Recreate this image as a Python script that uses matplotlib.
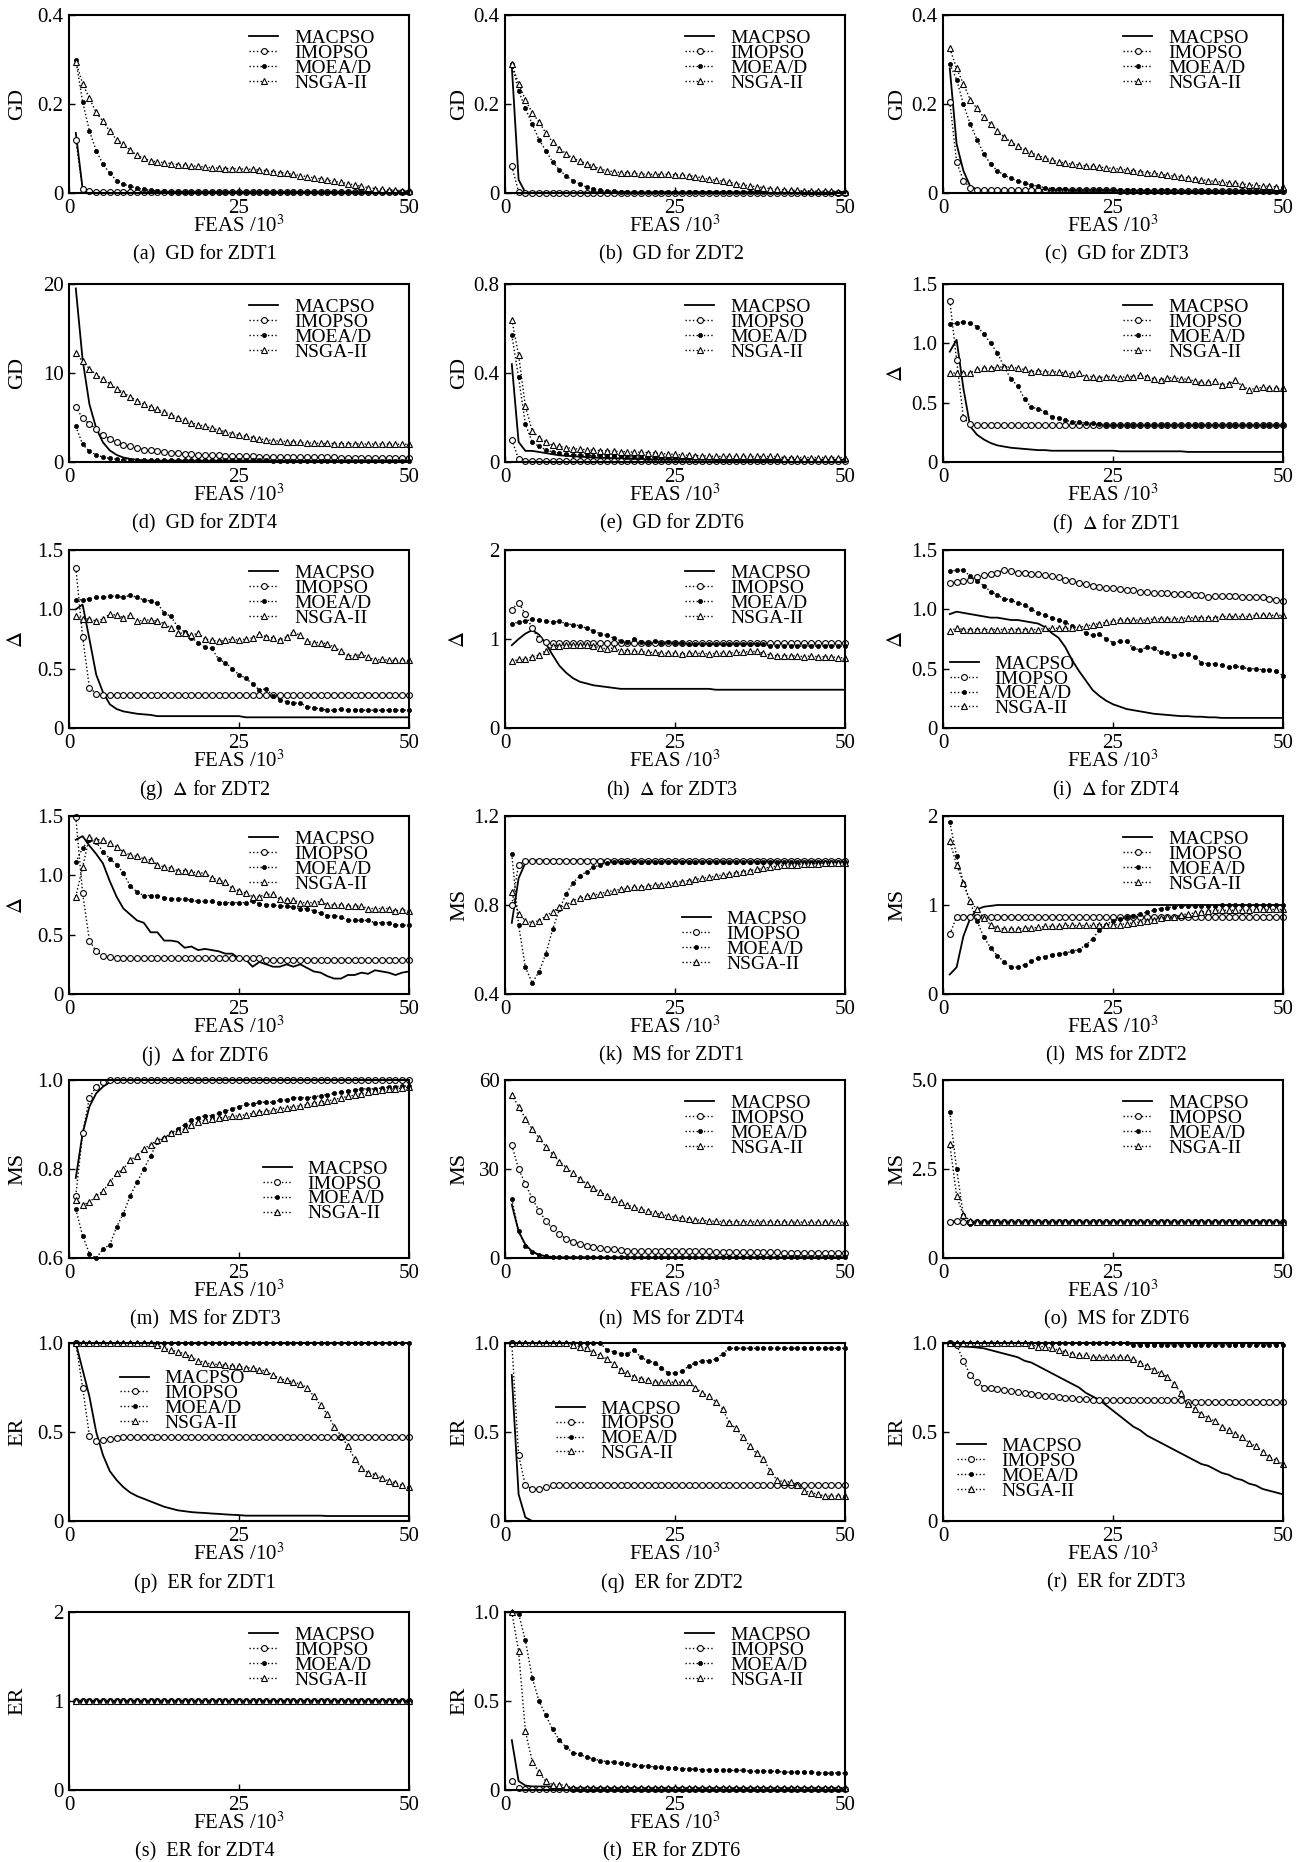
import numpy as np
import matplotlib
matplotlib.use("Agg")
import matplotlib.pyplot as plt

plt.rcParams['font.family'] = ['Liberation Serif', 'DejaVu Serif']
plt.rcParams['mathtext.fontset'] = 'stix'

# x positions: FEAS in units of 10^3
feas = np.arange(1, 51)
algos = ['MACPSO', 'IMOPSO', 'MOEA/D', 'NSGA-II']

# ---------------- GD ----------------
gd1_mac = [0.135, 0.01] + [0.002] * 48
gd1_imo = [0.12, 0.01, 0.004] + [0.002] * 47
gd1_moe = [0.30, 0.205, 0.14, 0.095, 0.065, 0.044, 0.028, 0.02, 0.015, 0.011,
           0.008, 0.006, 0.005, 0.004] + [0.003] * 36
gd1_nsg = [0.295, 0.246, 0.213, 0.181, 0.161, 0.139, 0.12, 0.11, 0.096, 0.085,
           0.078, 0.072, 0.07, 0.068, 0.066, 0.064, 0.062, 0.061, 0.06, 0.058,
           0.057, 0.056, 0.055, 0.055, 0.054, 0.054, 0.053, 0.052, 0.05, 0.048,
           0.046, 0.044, 0.042, 0.039, 0.037, 0.034, 0.032, 0.029, 0.026, 0.024,
           0.021, 0.018, 0.015, 0.012, 0.01, 0.008, 0.007, 0.006, 0.005, 0.004]

gd2_mac = [0.285, 0.03] + [0.001] * 48
gd2_imo = [0.06, 0.003] + [0.001] * 48
gd2_moe = [0.29, 0.23, 0.19, 0.155, 0.12, 0.095, 0.07, 0.052, 0.038, 0.028,
           0.02, 0.013, 0.009, 0.006, 0.005, 0.004] + [0.003] * 34
gd2_nsg = [0.29, 0.245, 0.21, 0.18, 0.16, 0.135, 0.115, 0.1, 0.088, 0.078,
           0.072, 0.066, 0.06, 0.054, 0.05, 0.048, 0.046, 0.045, 0.044, 0.043,
           0.042, 0.042, 0.042, 0.042, 0.041, 0.04, 0.039, 0.037, 0.034, 0.031,
           0.029, 0.027, 0.024, 0.021, 0.018, 0.016, 0.014, 0.012, 0.01, 0.008,
           0.007, 0.006, 0.006, 0.005, 0.005, 0.004, 0.004, 0.004, 0.003, 0.003]

gd3_mac = [0.28, 0.11, 0.05, 0.015, 0.008] + [0.006] * 20 + [0.005] * 25
gd3_imo = [0.205, 0.07, 0.028, 0.012, 0.007] + [0.006] * 20 + [0.005] * 25
gd3_moe = [0.29, 0.255, 0.2, 0.155, 0.12, 0.088, 0.065, 0.05, 0.04, 0.033,
           0.027, 0.022, 0.018, 0.015, 0.012, 0.01, 0.009, 0.008, 0.007] + [0.006] * 15 + [0.005] * 16
gd3_nsg = [0.325, 0.28, 0.245, 0.21, 0.19, 0.17, 0.155, 0.14, 0.125, 0.115,
           0.105, 0.097, 0.09, 0.084, 0.078, 0.074, 0.07, 0.067, 0.065, 0.063,
           0.061, 0.06, 0.058, 0.057, 0.055, 0.054, 0.052, 0.05, 0.048, 0.046,
           0.044, 0.042, 0.04, 0.038, 0.036, 0.034, 0.032, 0.03, 0.028, 0.026,
           0.025, 0.023, 0.022, 0.02, 0.019, 0.017, 0.016, 0.015, 0.014, 0.013]

gd4_mac = [19.5, 11.5, 6.5, 3.8, 2.2, 1.3, 0.8, 0.5, 0.35, 0.25,
           0.18] + [0.15] * 19 + [0.12] * 20
gd4_imo = [6.2, 4.9, 4.3, 3.7, 3.0, 2.6, 2.2, 1.95, 1.75, 1.55,
           1.4, 1.3, 1.2, 1.12, 1.05, 0.98, 0.93, 0.88, 0.84, 0.8,
           0.77, 0.74, 0.71, 0.68, 0.66, 0.64, 0.62, 0.6, 0.58, 0.57,
           0.56, 0.55, 0.54, 0.53, 0.53, 0.52, 0.52, 0.51, 0.51, 0.5,
           0.5, 0.49, 0.49, 0.48, 0.48, 0.47, 0.47, 0.46, 0.46, 0.45]
gd4_moe = [4.0, 2.0, 1.2, 0.8, 0.55, 0.4, 0.3, 0.25, 0.2] + [0.18] * 20 + [0.15] * 21
gd4_nsg = [12.3, 11.3, 10.5, 9.8, 9.3, 8.8, 8.2, 7.8, 7.3, 6.9,
           6.5, 6.2, 5.9, 5.6, 5.3, 5.0, 4.7, 4.4, 4.2, 4.0,
           3.8, 3.6, 3.4, 3.2, 3.0, 2.9, 2.75, 2.6, 2.5, 2.4,
           2.35, 2.3, 2.25, 2.2, 2.15, 2.12, 2.1, 2.08, 2.07, 2.06,
           2.05, 2.04, 2.03, 2.02, 2.02, 2.01, 2.01, 2.0, 2.0, 2.0]

gd6_mac = [0.44, 0.09, 0.05, 0.05, 0.045, 0.04, 0.035, 0.03, 0.028, 0.026,
           0.024, 0.022, 0.02, 0.019, 0.018, 0.017, 0.016, 0.015, 0.014, 0.013] + [0.012] * 10 + [0.01] * 20
gd6_imo = [0.1, 0.012] + [0.005] * 48
gd6_moe = [0.57, 0.38, 0.17, 0.09, 0.07, 0.055, 0.045, 0.04, 0.036, 0.033,
           0.031, 0.03, 0.029, 0.028, 0.027, 0.026, 0.025, 0.024, 0.023, 0.022] + [0.02] * 10 + [0.015] * 10 + [0.01] * 10
gd6_nsg = [0.64, 0.48, 0.25, 0.14, 0.11, 0.09, 0.075, 0.07, 0.065, 0.06,
           0.058, 0.055, 0.053, 0.051, 0.05, 0.048, 0.047, 0.046, 0.045, 0.044,
           0.042, 0.04, 0.038, 0.036, 0.034, 0.032, 0.03, 0.029, 0.028, 0.027] + [0.025] * 10 + [0.02] * 10

# ---------------- Spread (Delta) ----------------
sp1_mac = [0.93, 1.03, 0.62, 0.3, 0.23, 0.19, 0.16, 0.14, 0.13, 0.12,
           0.115, 0.11, 0.105, 0.1, 0.1] + [0.095] * 10 + [0.09] * 10 + [0.085] * 15
sp1_imo = [1.36, 0.86, 0.37, 0.32] + [0.31] * 46
sp1_moe = [1.16, 1.17, 1.18, 1.17, 1.14, 1.08, 1.0, 0.92, 0.8, 0.7,
           0.64, 0.53, 0.46, 0.45, 0.42, 0.38, 0.37, 0.35, 0.34, 0.335,
           0.33, 0.325, 0.32] + [0.31] * 27
sp1_nsg = [0.75, 0.75, 0.75, 0.75, 0.78, 0.79, 0.79, 0.8, 0.8, 0.8,
           0.79, 0.78, 0.76, 0.77, 0.76, 0.76, 0.76, 0.75, 0.74, 0.75,
           0.72, 0.72, 0.71, 0.72, 0.72, 0.71, 0.72, 0.72, 0.73, 0.72,
           0.7, 0.69, 0.71, 0.71, 0.7, 0.7, 0.68, 0.67, 0.67, 0.68,
           0.65, 0.66, 0.69, 0.64, 0.61, 0.62, 0.63, 0.62, 0.62, 0.62]

sp2_mac = [1.0, 1.04, 0.75, 0.45, 0.3, 0.2, 0.16, 0.14, 0.13, 0.12,
           0.115, 0.11] + [0.1] * 13 + [0.09] * 25
sp2_imo = [1.35, 0.77, 0.34, 0.29] + [0.28] * 46
sp2_moe = [1.08, 1.08, 1.09, 1.1, 1.1, 1.11, 1.11, 1.1, 1.12, 1.1,
           1.08, 1.07, 1.05, 0.97, 0.94, 0.85, 0.81, 0.76, 0.72, 0.68,
           0.67, 0.58, 0.55, 0.5, 0.45, 0.42, 0.37, 0.32, 0.33, 0.27,
           0.24, 0.22, 0.21, 0.21, 0.18, 0.17, 0.16, 0.15, 0.15, 0.16] + [0.15] * 10
sp2_nsg = [0.94, 0.92, 0.92, 0.9, 0.92, 0.96, 0.95, 0.93, 0.95, 0.9,
           0.91, 0.91, 0.9, 0.88, 0.84, 0.8, 0.8, 0.78, 0.8, 0.75,
           0.74, 0.73, 0.74, 0.75, 0.74, 0.75, 0.76, 0.79, 0.77, 0.76,
           0.74, 0.77, 0.81, 0.78, 0.73, 0.72, 0.72, 0.71, 0.68, 0.65,
           0.61, 0.61, 0.62, 0.6, 0.57, 0.58, 0.57, 0.57, 0.57, 0.57]

sp3_mac = [0.93, 1.0, 1.06, 1.1, 1.05, 0.95, 0.82, 0.7, 0.62, 0.56,
           0.52, 0.5, 0.48, 0.47, 0.46, 0.45] + [0.44] * 14 + [0.43] * 20
sp3_imo = [1.33, 1.41, 1.28, 1.12, 1.0, 0.97] + [0.95] * 44
sp3_moe = [1.17, 1.19, 1.2, 1.22, 1.21, 1.2, 1.19, 1.2, 1.17, 1.16,
           1.15, 1.12, 1.09, 1.06, 1.04, 1.01, 0.98, 0.97, 1.0, 0.97,
           0.96, 0.98, 0.96, 0.97, 0.96, 0.95] + [0.94] * 12 + [0.92] * 12
sp3_nsg = [0.75, 0.77, 0.77, 0.8, 0.82, 0.87, 0.92, 0.92, 0.93, 0.93,
           0.93, 0.93, 0.92, 0.9, 0.89, 0.9, 0.87, 0.87, 0.86, 0.86,
           0.85, 0.85, 0.84, 0.84, 0.84, 0.83, 0.84, 0.84, 0.84, 0.83,
           0.84, 0.84, 0.84, 0.85, 0.85, 0.86, 0.86, 0.84, 0.82, 0.81,
           0.81, 0.81, 0.81, 0.8, 0.81, 0.8, 0.8, 0.8, 0.79, 0.79]

sp4_mac = [0.96, 0.98, 0.97, 0.96, 0.95, 0.94, 0.93, 0.93, 0.92, 0.91,
           0.91, 0.9, 0.89, 0.88, 0.85, 0.8, 0.76, 0.68, 0.57, 0.48,
           0.4, 0.32, 0.27, 0.23, 0.2, 0.18, 0.16, 0.15, 0.14, 0.13,
           0.12, 0.115, 0.11, 0.105, 0.1, 0.1, 0.095, 0.095, 0.09, 0.09] + [0.085] * 10
sp4_imo = [1.22, 1.23, 1.24, 1.25, 1.27, 1.29, 1.3, 1.31, 1.33, 1.32,
           1.31, 1.31, 1.3, 1.3, 1.29, 1.28, 1.27, 1.25, 1.24, 1.22,
           1.21, 1.2, 1.19, 1.18, 1.18, 1.17, 1.16, 1.16, 1.15, 1.15,
           1.14, 1.14, 1.14, 1.13, 1.13, 1.13, 1.12, 1.12, 1.1, 1.11,
           1.11, 1.11, 1.11, 1.1, 1.1, 1.1, 1.1, 1.09, 1.08, 1.07]
sp4_moe = [1.32, 1.33, 1.33, 1.28, 1.24, 1.2, 1.15, 1.12, 1.09, 1.08,
           1.05, 1.04, 1.0, 0.97, 0.95, 0.93, 0.91, 0.89, 0.86, 0.84,
           0.8, 0.78, 0.79, 0.75, 0.72, 0.73, 0.73, 0.67, 0.66, 0.68,
           0.67, 0.64, 0.63, 0.61, 0.62, 0.62, 0.6, 0.55, 0.54, 0.54,
           0.53, 0.51, 0.52, 0.51, 0.5, 0.5, 0.49, 0.49, 0.48, 0.44]
sp4_nsg = ([0.82, 0.84] + [0.83] * 12 + [0.84] * 5 + [0.85, 0.86, 0.87, 0.88, 0.89, 0.9]
           + [0.91] * 5 + [0.92] * 5 + [0.93] * 5 + [0.94] * 5 + [0.95] * 5)

sp6_mac = [1.3, 1.33, 1.25, 1.18, 1.1, 0.95, 0.82, 0.72, 0.67, 0.62,
           0.6, 0.52, 0.52, 0.45, 0.45, 0.44, 0.39, 0.4, 0.37, 0.38,
           0.37, 0.36, 0.34, 0.34, 0.3, 0.29, 0.23, 0.27, 0.25, 0.23,
           0.23, 0.25, 0.23, 0.25, 0.22, 0.19, 0.18, 0.15, 0.13, 0.13,
           0.16, 0.16, 0.18, 0.17, 0.2, 0.19, 0.18, 0.16, 0.18, 0.19]
sp6_imo = [1.49, 0.85, 0.45, 0.36, 0.32, 0.31] + [0.3] * 22 + [0.29] * 22
sp6_moe = [1.11, 1.23, 1.3, 1.28, 1.2, 1.14, 1.09, 1.02, 0.91, 0.86,
           0.83, 0.83, 0.83, 0.81, 0.8, 0.8, 0.8, 0.79, 0.78, 0.78,
           0.78, 0.77, 0.77, 0.77, 0.77, 0.77, 0.78, 0.76, 0.75, 0.75,
           0.74, 0.74, 0.73, 0.72, 0.72, 0.7, 0.68, 0.66, 0.66, 0.65,
           0.62, 0.62, 0.62, 0.62, 0.6, 0.6, 0.6, 0.58, 0.58, 0.58]
sp6_nsg = [0.82, 1.07, 1.32, 1.3, 1.3, 1.27, 1.24, 1.2, 1.17, 1.16,
           1.14, 1.13, 1.09, 1.07, 1.06, 1.04, 1.04, 1.03, 1.02, 1.02,
           0.98, 0.96, 0.94, 0.89, 0.87, 0.85, 0.82, 0.82, 0.84, 0.84,
           0.8, 0.79, 0.79, 0.77, 0.77, 0.77, 0.78, 0.75, 0.75, 0.75,
           0.74, 0.74, 0.74, 0.72, 0.72, 0.72, 0.72, 0.7, 0.71, 0.7]

# ---------------- MS ----------------
ms1_mac = [0.72, 0.92, 0.99] + [1.0] * 47
ms1_imo = [0.8, 0.98] + [1.0] * 48
ms1_moe = [1.03, 0.71, 0.52, 0.45, 0.5, 0.58, 0.69, 0.78, 0.85, 0.9,
           0.93, 0.95, 0.97, 0.98, 0.99] + [0.995] * 35
ms1_nsg = [0.86, 0.76, 0.73, 0.72, 0.73, 0.75, 0.77, 0.79, 0.8, 0.82,
           0.83, 0.84, 0.845, 0.85, 0.86, 0.865, 0.87, 0.875, 0.88, 0.88,
           0.885, 0.89, 0.89, 0.895, 0.9, 0.905, 0.91, 0.915, 0.92, 0.925,
           0.93, 0.935, 0.94, 0.945, 0.95, 0.955, 0.96, 0.965, 0.97, 0.975,
           0.98, 0.98, 0.982, 0.984, 0.985, 0.986, 0.987, 0.988, 0.989, 0.99]

ms2_mac = [0.22, 0.3, 0.65, 0.85, 0.95, 0.98, 0.99] + [1.0] * 43
ms2_imo = [0.67] + [0.87] * 49
ms2_moe = [1.93, 1.55, 1.25, 1.03, 0.82, 0.64, 0.52, 0.43, 0.36, 0.3,
           0.3, 0.33, 0.37, 0.4, 0.42, 0.44, 0.45, 0.46, 0.48, 0.5,
           0.55, 0.62, 0.72, 0.78, 0.82, 0.84, 0.86, 0.88, 0.9, 0.92,
           0.94, 0.96, 0.97, 0.98] + [0.99] * 6 + [1.0] * 10
ms2_nsg = [1.72, 1.45, 1.25, 1.04, 0.95, 0.85, 0.78, 0.74, 0.73, 0.73,
           0.73, 0.74, 0.74, 0.75, 0.76, 0.76, 0.76, 0.77, 0.77, 0.77,
           0.77, 0.77, 0.78, 0.78, 0.78, 0.78, 0.79, 0.8, 0.81, 0.82,
           0.83, 0.85, 0.86, 0.87, 0.89, 0.9, 0.91, 0.92, 0.93, 0.94] + [0.94] * 5 + [0.95] * 5

ms3_mac = [0.78, 0.88, 0.94, 0.97, 0.985, 0.995] + [1.0] * 44
ms3_imo = [0.74, 0.88, 0.96, 0.985, 0.995] + [1.0] * 45
ms3_moe = [0.71, 0.65, 0.61, 0.6, 0.62, 0.63, 0.67, 0.7, 0.74, 0.77,
           0.8, 0.83, 0.86, 0.87, 0.88, 0.89, 0.9, 0.91, 0.915, 0.92,
           0.92, 0.925, 0.93, 0.935, 0.94, 0.945, 0.945, 0.95, 0.95, 0.95,
           0.955, 0.955, 0.96, 0.96, 0.96, 0.962, 0.965, 0.967, 0.97, 0.972,
           0.975, 0.977, 0.98, 0.98, 0.98, 0.982, 0.984, 0.985, 0.986, 0.987]
ms3_nsg = [0.73, 0.72, 0.725, 0.74, 0.75, 0.77, 0.79, 0.8, 0.82, 0.83,
           0.845, 0.855, 0.865, 0.87, 0.88, 0.885, 0.89, 0.9, 0.905, 0.91,
           0.912, 0.914, 0.916, 0.918, 0.92, 0.922, 0.925, 0.928, 0.93, 0.932,
           0.935, 0.938, 0.94, 0.942, 0.945, 0.948, 0.95, 0.953, 0.956, 0.96,
           0.963, 0.966, 0.969, 0.972, 0.975, 0.977, 0.979, 0.98, 0.982, 0.984]

ms4_mac = [18, 9, 4.5, 2.2, 1.1, 0.6, 0.3] + [0.2] * 43
ms4_imo = [38, 30, 25, 20, 16, 12.5, 10, 8, 6.5, 5.5,
           4.8, 4.2, 3.8, 3.4, 3.1, 2.9, 2.7, 2.5, 2.4, 2.3] + [2.2] * 10 + [2.0] * 10 + [1.8] * 10
ms4_moe = [20, 9, 4, 2, 1, 0.6, 0.4] + [0.3] * 43
ms4_nsg = [55, 51, 47, 43.5, 40.5, 37.5, 35, 32.5, 30.5, 28.5,
           26.7, 25, 23.5, 22.2, 21, 19.8, 18.8, 17.9, 17.1, 16.4,
           15.8, 15.2, 14.7, 14.2, 13.8, 13.5, 13.2, 12.9, 12.7, 12.5,
           12.4, 12.3] + [12.2] * 8 + [12.1] * 10

ms6_mac = [1.05] + [1.0] * 49
ms6_imo = [1.0, 1.05] + [1.0] * 48
ms6_moe = [4.1, 2.5, 1.2, 0.95] + [1.0] * 46
ms6_nsg = [3.2, 1.75, 1.2, 1.05] + [1.0] * 46

# ---------------- ER ----------------
er1_mac = [1.0, 0.85, 0.7, 0.5, 0.37, 0.28, 0.23, 0.19, 0.16, 0.14,
           0.125, 0.11, 0.095, 0.08, 0.07, 0.06, 0.055, 0.05, 0.047, 0.045,
           0.042, 0.04, 0.037, 0.035, 0.033] + [0.03] * 12 + [0.028] * 13
er1_imo = [1.0, 0.75, 0.48, 0.45, 0.455, 0.46, 0.465] + [0.47] * 43
er1_moe = [1.0] * 50
er1_nsg = [1.0] * 12 + [0.99, 0.97, 0.96, 0.95, 0.94, 0.92, 0.9, 0.89,
                        0.88, 0.88, 0.875, 0.87, 0.87, 0.86, 0.86, 0.85, 0.84, 0.82,
                        0.8, 0.79, 0.78, 0.77, 0.75, 0.7, 0.65, 0.6, 0.53, 0.48,
                        0.42, 0.35, 0.3, 0.27, 0.26, 0.24, 0.225, 0.215, 0.2, 0.19]

er2_mac = [0.82, 0.15, 0.02] + [0.0] * 47
er2_imo = [1.0, 0.37, 0.2, 0.18, 0.18, 0.19] + [0.2] * 44
er2_moe = [1.0] * 14 + [0.96, 0.95, 0.94, 0.94, 0.96, 0.92, 0.9, 0.89, 0.86, 0.83,
                        0.83, 0.84, 0.87, 0.89, 0.9, 0.9, 0.91, 0.94] + [0.97] * 18
er2_nsg = ([1.0] * 9 + [0.99, 0.98, 0.97, 0.95, 0.93, 0.91, 0.88, 0.85, 0.83, 0.81, 0.8, 0.79]
           + [0.78] * 6
           + [0.75, 0.72, 0.7, 0.67, 0.63, 0.55, 0.52, 0.47, 0.42, 0.38, 0.35, 0.28,
              0.23, 0.22, 0.22, 0.2, 0.17, 0.16, 0.15, 0.14, 0.14, 0.14, 0.14])

er3_mac = [0.99, 0.985, 0.98, 0.978, 0.975, 0.97, 0.96, 0.95, 0.94, 0.93,
           0.92, 0.9, 0.89, 0.87, 0.85, 0.83, 0.81, 0.79, 0.77, 0.75,
           0.72, 0.7, 0.68, 0.65, 0.62, 0.59, 0.56, 0.53, 0.51, 0.48,
           0.46, 0.44, 0.42, 0.4, 0.38, 0.36, 0.34, 0.32, 0.31, 0.29,
           0.27, 0.26, 0.24, 0.23, 0.21, 0.2, 0.18, 0.17, 0.16, 0.15]
er3_imo = [1.0, 0.99, 0.9, 0.82, 0.78, 0.75, 0.75, 0.74, 0.735, 0.73,
           0.725, 0.72, 0.715, 0.71, 0.705, 0.7, 0.695, 0.69, 0.69, 0.685,
           0.685] + [0.68] * 14 + [0.67] * 15
er3_moe = [1.0] * 27 + [0.99] * 23
er3_nsg = [1.0] * 12 + [0.99, 0.98, 0.98, 0.97, 0.96, 0.95, 0.94, 0.93,
                        0.93, 0.92, 0.92, 0.92, 0.92, 0.92, 0.92, 0.91, 0.89, 0.87,
                        0.85, 0.83, 0.81, 0.77, 0.72, 0.66, 0.63, 0.6, 0.58, 0.56,
                        0.53, 0.51, 0.49, 0.47, 0.44, 0.42, 0.39, 0.36, 0.34, 0.32]

er4_mac = [1.0] * 50
er4_imo = [1.0] * 50
er4_moe = [1.0] * 50
er4_nsg = [1.0] * 50

er6_mac = [0.28, 0.05, 0.025, 0.02, 0.02, 0.02, 0.02] + [0.01] * 43
er6_imo = [0.05, 0.01] + [0.005] * 48
er6_moe = [1.0, 0.99, 0.84, 0.63, 0.5, 0.42, 0.34, 0.28, 0.24, 0.21,
           0.2, 0.185, 0.175, 0.165, 0.16, 0.155, 0.15, 0.145, 0.14, 0.137,
           0.133, 0.13, 0.127, 0.125, 0.122, 0.12, 0.118, 0.116, 0.114, 0.112] + [0.11] * 5 + [0.105] * 5 + [0.1] * 5 + [0.095] * 5
er6_nsg = [1.0, 0.78, 0.33, 0.16, 0.1, 0.05, 0.03, 0.03, 0.025] + [0.01] * 41

DELTA = r'$\mathit{\Delta}$'

# letter, metric, problem, series, yticks, yticklabels, legend upper-left corner (axes fraction)
panels = [
    ('a', 'GD', 'ZDT1', (gd1_mac, gd1_imo, gd1_moe, gd1_nsg), [0, 0.2, 0.4], ['0', '0.2', '0.4'], (0.53, 0.92)),
    ('b', 'GD', 'ZDT2', (gd2_mac, gd2_imo, gd2_moe, gd2_nsg), [0, 0.2, 0.4], ['0', '0.2', '0.4'], (0.53, 0.92)),
    ('c', 'GD', 'ZDT3', (gd3_mac, gd3_imo, gd3_moe, gd3_nsg), [0, 0.2, 0.4], ['0', '0.2', '0.4'], (0.53, 0.92)),
    ('d', 'GD', 'ZDT4', (gd4_mac, gd4_imo, gd4_moe, gd4_nsg), [0, 10, 20], ['0', '10', '20'], (0.53, 0.92)),
    ('e', 'GD', 'ZDT6', (gd6_mac, gd6_imo, gd6_moe, gd6_nsg), [0, 0.4, 0.8], ['0', '0.4', '0.8'], (0.53, 0.92)),
    ('f', DELTA, 'ZDT1', (sp1_mac, sp1_imo, sp1_moe, sp1_nsg), [0, 0.5, 1.0, 1.5], ['0', '0.5', '1.0', '1.5'], (0.53, 0.92)),
    ('g', DELTA, 'ZDT2', (sp2_mac, sp2_imo, sp2_moe, sp2_nsg), [0, 0.5, 1.0, 1.5], ['0', '0.5', '1.0', '1.5'], (0.53, 0.92)),
    ('h', DELTA, 'ZDT3', (sp3_mac, sp3_imo, sp3_moe, sp3_nsg), [0, 1, 2], ['0', '1', '2'], (0.53, 0.92)),
    ('i', DELTA, 'ZDT4', (sp4_mac, sp4_imo, sp4_moe, sp4_nsg), [0, 0.5, 1.0, 1.5], ['0', '0.5', '1.0', '1.5'], (0.02, 0.41)),
    ('j', DELTA, 'ZDT6', (sp6_mac, sp6_imo, sp6_moe, sp6_nsg), [0, 0.5, 1.0, 1.5], ['0', '0.5', '1.0', '1.5'], (0.53, 0.92)),
    ('k', 'MS', 'ZDT1', (ms1_mac, ms1_imo, ms1_moe, ms1_nsg), [0.4, 0.8, 1.2], ['0.4', '0.8', '1.2'], (0.52, 0.47)),
    ('l', 'MS', 'ZDT2', (ms2_mac, ms2_imo, ms2_moe, ms2_nsg), [0, 1, 2], ['0', '1', '2'], (0.53, 0.92)),
    ('m', 'MS', 'ZDT3', (ms3_mac, ms3_imo, ms3_moe, ms3_nsg), [0.6, 0.8, 1.0], ['0.6', '0.8', '1.0'], (0.57, 0.55)),
    ('n', 'MS', 'ZDT4', (ms4_mac, ms4_imo, ms4_moe, ms4_nsg), [0, 30, 60], ['0', '30', '60'], (0.53, 0.92)),
    ('o', 'MS', 'ZDT6', (ms6_mac, ms6_imo, ms6_moe, ms6_nsg), [0, 2.5, 5.0], ['0', '2.5', '5.0'], (0.53, 0.92)),
    ('p', 'ER', 'ZDT1', (er1_mac, er1_imo, er1_moe, er1_nsg), [0, 0.5, 1.0], ['0', '0.5', '1.0'], (0.15, 0.85)),
    ('q', 'ER', 'ZDT2', (er2_mac, er2_imo, er2_moe, er2_nsg), [0, 0.5, 1.0], ['0', '0.5', '1.0'], (0.15, 0.68)),
    ('r', 'ER', 'ZDT3', (er3_mac, er3_imo, er3_moe, er3_nsg), [0, 0.5, 1.0], ['0', '0.5', '1.0'], (0.04, 0.47)),
    ('s', 'ER', 'ZDT4', (er4_mac, er4_imo, er4_moe, er4_nsg), [0, 1, 2], ['0', '1', '2'], (0.53, 0.92)),
    ('t', 'ER', 'ZDT6', (er6_mac, er6_imo, er6_moe, er6_nsg), [0, 0.5, 1.0], ['0', '0.5', '1.0'], (0.53, 0.92)),
]

styles = [
    dict(ls='-', lw=1.3, marker=None),
    dict(ls=':', lw=1.0, marker='o', ms=4.2, mfc='white', mec='black', mew=0.8),
    dict(ls=':', lw=1.0, marker='o', ms=3.0, mfc='black', mec='black', mew=0.5),
    dict(ls=':', lw=1.0, marker='^', ms=5.0, mfc='white', mec='black', mew=0.8),
]

W, H = 1311, 1862
col_left = [69, 505, 943]
row_top = [15, 284, 550, 816, 1080, 1343, 1612]
ax_w, ax_h = 340, 178
caption_x = [0.40, 0.49, 0.51]
ylabel_px = [-42, -36, -36]

fig = plt.figure(figsize=(W / 100, H / 100), dpi=100)

for i, (letter, metric, problem, series, yt, ytl, leg_xy) in enumerate(panels):
    r, c = divmod(i, 3)
    ax = fig.add_axes([col_left[c] / W, 1 - (row_top[r] + ax_h) / H, ax_w / W, ax_h / H])
    for name, vals, st in zip(algos, series, styles):
        assert len(vals) == 50, (letter, name, len(vals))
        ax.plot(feas, vals, color='black', label=name, clip_on=False, **st)
    ax.set_xlim(0, 50)
    ax.set_ylim(yt[0], yt[-1])
    ax.set_xticks([0, 25, 50])
    ax.set_xticklabels(['0', '25', '50'])
    ax.set_yticks(yt)
    ax.set_yticklabels(ytl)
    ax.tick_params(direction='in', length=4, width=1, labelsize=15, pad=4)
    for sp in ax.spines.values():
        sp.set_linewidth(1.5)
    ax.set_ylabel(metric, fontsize=16)
    ax.yaxis.set_label_coords(ylabel_px[c] / ax_w, 0.5)
    ax.text(0.5, -33 / ax_h, 'FEAS /10$^{3}$', transform=ax.transAxes,
            ha='center', va='center', fontsize=15)
    ax.text(caption_x[c], -62 / ax_h, f'({letter})  {metric} for {problem}',
            transform=ax.transAxes, ha='center', va='center', fontsize=14.5)
    ax.legend(loc='upper left', bbox_to_anchor=leg_xy, frameon=False, fontsize=14,
              handlelength=1.5, handletextpad=0.8, labelspacing=-0.14,
              borderpad=0, borderaxespad=0)

fig.savefig('out.png', dpi=100)
